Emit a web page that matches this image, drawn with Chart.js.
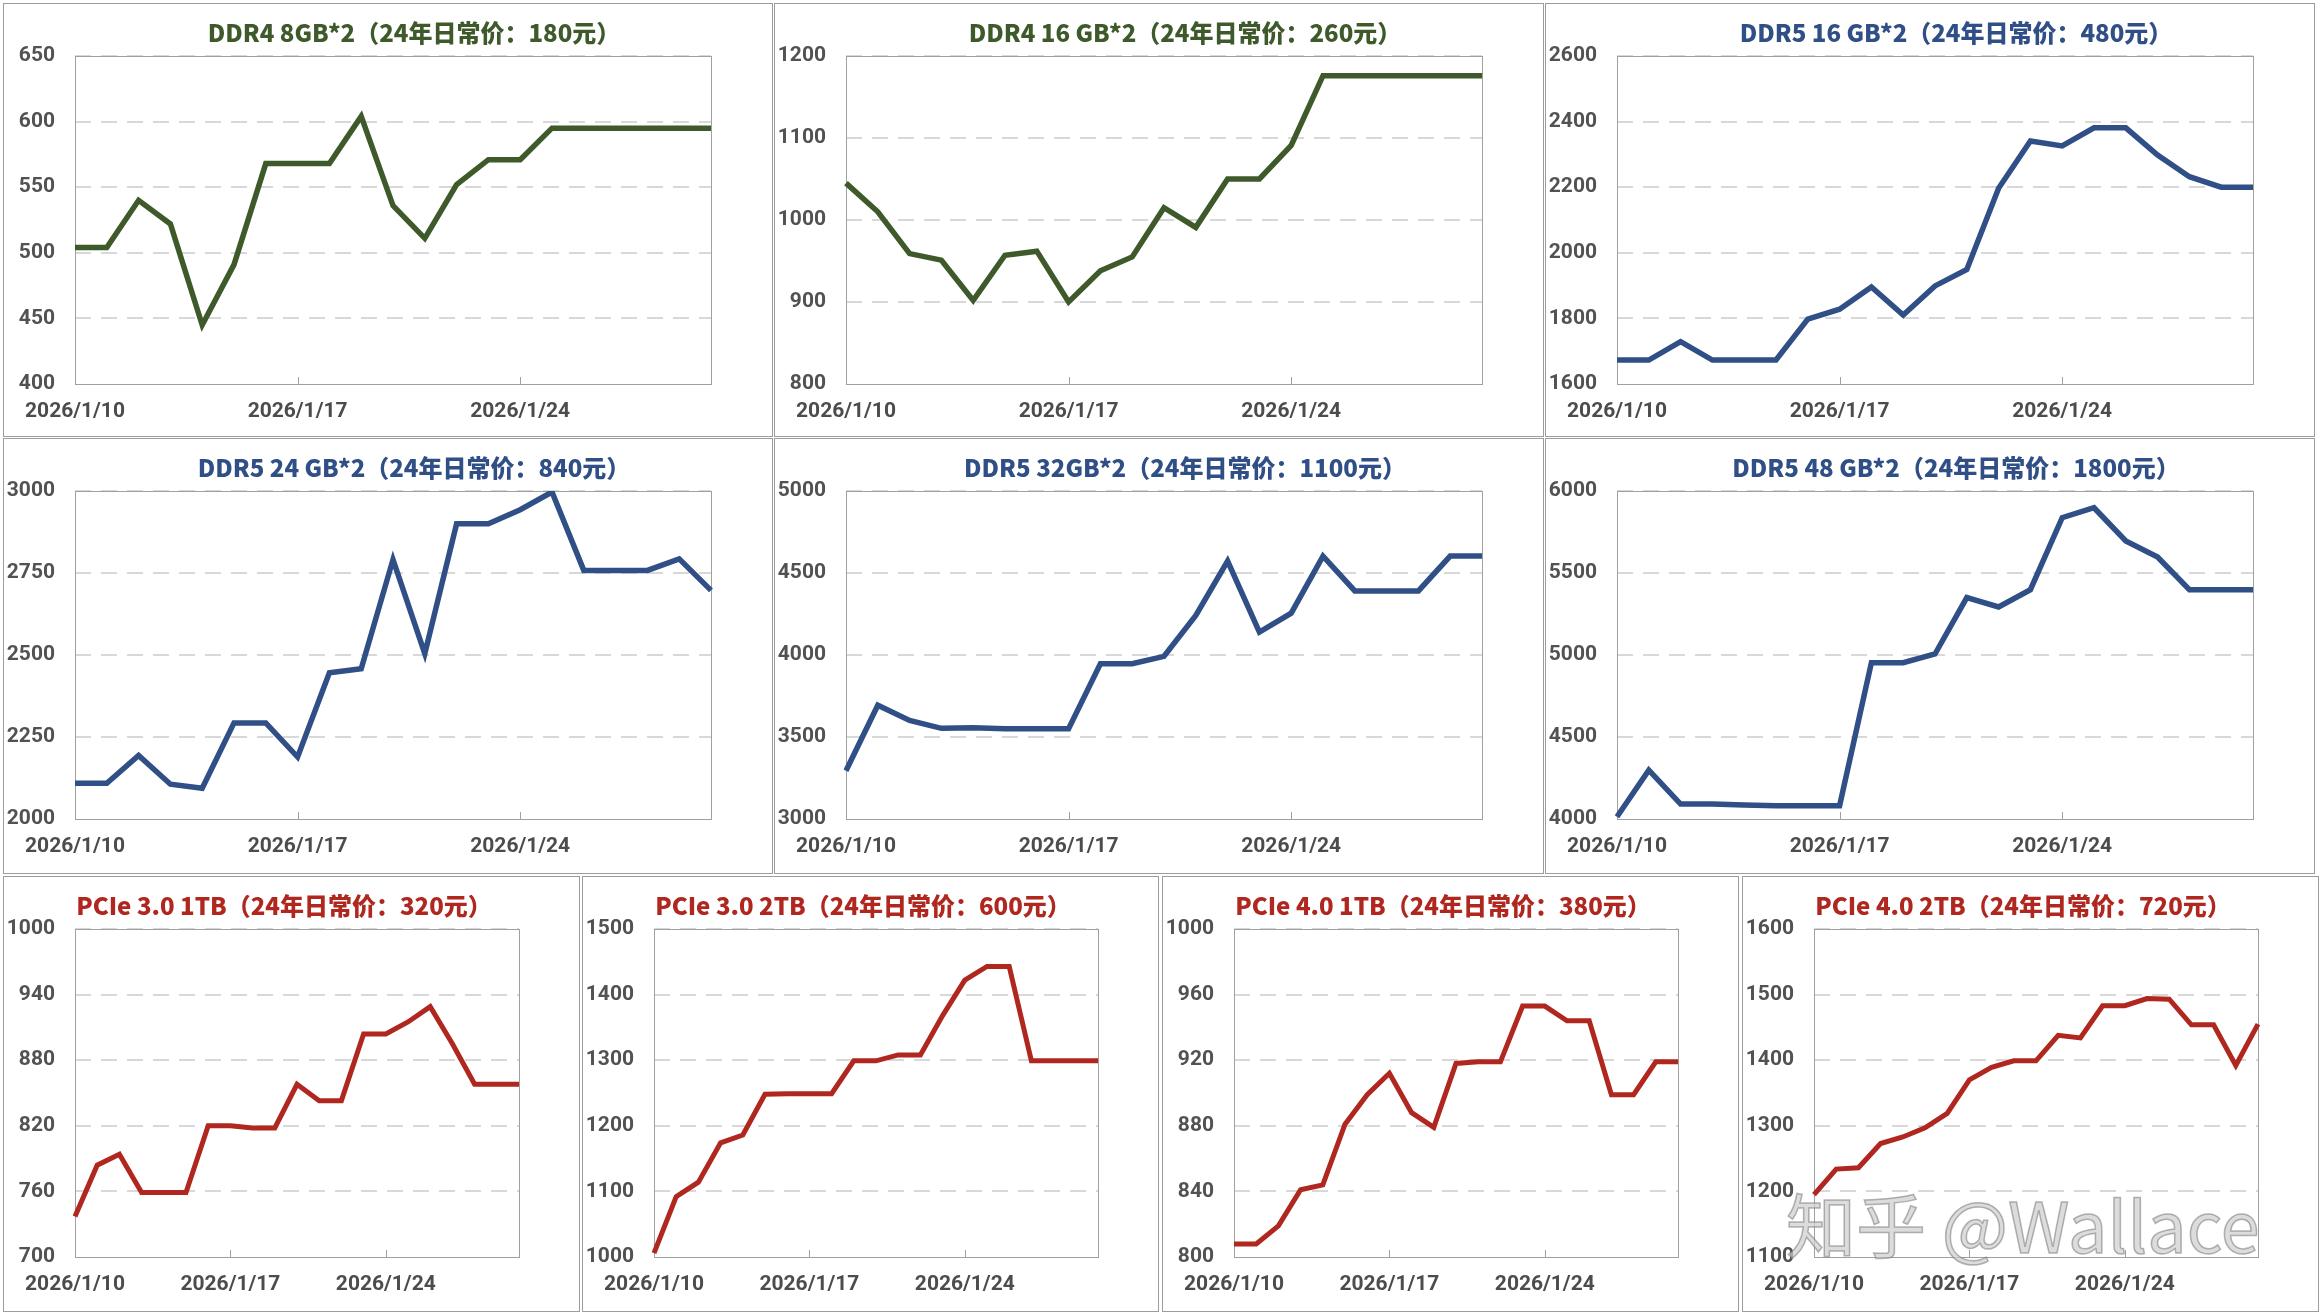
<!DOCTYPE html>
<html>
<head>
<meta charset="utf-8">
<script src="https://cdn.jsdelivr.net/npm/chart.js@4.4.1/dist/chart.umd.min.js"></script>
<style>
  body { margin: 0; background: #fff; width: 2322px; height: 1314px; position: relative; overflow: hidden; }
  .panel { position: absolute; box-sizing: border-box; border: 1px solid #9c9c9c; background: #fff; }
  .panel canvas { display: block; }
  #wm { position: absolute; z-index: 5; left: 1786px; top: 1172px; font: 400 70px "Noto Sans CJK SC", sans-serif;
        color: rgba(205,205,205,0.7); -webkit-text-stroke: 1.5px rgba(110,110,110,0.5); white-space: nowrap; }
</style>
</head>
<body>
<div id="wm">知乎 @Wallace</div>
<script>
// x axis: one point per day
const dates = ['2026/1/10', '2026/1/11', '2026/1/12', '2026/1/13', '2026/1/14', '2026/1/15', '2026/1/16',
  '2026/1/17', '2026/1/18', '2026/1/19', '2026/1/20', '2026/1/21', '2026/1/22', '2026/1/23',
  '2026/1/24', '2026/1/25', '2026/1/26', '2026/1/27', '2026/1/28', '2026/1/29', '2026/1/30'];

const titles = ['DDR4 8GB*2（24年日常价：180元）', 'DDR4 16 GB*2（24年日常价：260元）', 'DDR5 16 GB*2（24年日常价：480元）',
  'DDR5 24 GB*2（24年日常价：840元）', 'DDR5 32GB*2（24年日常价：1100元）', 'DDR5 48 GB*2（24年日常价：1800元）',
  'PCIe 3.0 1TB（24年日常价：320元）', 'PCIe 3.0 2TB（24年日常价：600元）', 'PCIe 4.0 1TB（24年日常价：380元）', 'PCIe 4.0 2TB（24年日常价：720元）'];

const ddr4_8 = [504, 504, 540, 522, 445, 491, 568, 568, 568, 604, 536, 511, 552, 571, 571, 595, 595, 595, 595, 595, 595];
const ddr4_16 = [1045, 1010, 959, 951, 902, 957, 962, 900, 938, 955, 1015, 991, 1050, 1050, 1091, 1176, 1176, 1176, 1176, 1176, 1176];
const ddr5_16 = [1673, 1673, 1729, 1673, 1673, 1673, 1798, 1828, 1896, 1810, 1899, 1949, 2197, 2341, 2326, 2381, 2381, 2298, 2232, 2200, 2200];
const ddr5_24 = [2109, 2109, 2194, 2106, 2094, 2293, 2293, 2189, 2446, 2458, 2791, 2504, 2900, 2900, 2943, 2997, 2758, 2758, 2758, 2793, 2697];
const ddr5_32 = [3294, 3694, 3601, 3553, 3557, 3551, 3551, 3551, 3947, 3947, 3992, 4241, 4573, 4140, 4255, 4603, 4391, 4391, 4391, 4603, 4603];
const ddr5_48 = [4014, 4298, 4091, 4091, 4085, 4081, 4081, 4081, 4953, 4953, 5006, 5350, 5293, 5398, 5837, 5898, 5695, 5597, 5398, 5398, 5398];
const pcie3_1 = [737, 784, 794, 759, 759, 759, 820, 820, 818, 818, 858, 843, 843, 904, 904, 915, 929, 895, 858, 858, 858];
const pcie3_2 = [1006, 1092, 1114, 1174, 1186, 1248, 1249, 1249, 1249, 1299, 1299, 1308, 1308, 1368, 1422, 1443, 1443, 1299, 1299, 1299, 1299];
const pcie4_1 = [808, 808, 819, 841, 844, 881, 899, 912, 888, 879, 918, 919, 919, 953, 953, 944, 944, 899, 899, 919, 919];
const pcie4_2 = [1195, 1234, 1236, 1273, 1283, 1297, 1319, 1370, 1389, 1399, 1399, 1438, 1434, 1483, 1483, 1494, 1493, 1454, 1454, 1392, 1455];

// y axis ranges (min, max, step)
const yMin = [400, 800, 1600, 2000, 3000, 4000, 700, 1000, 800, 1100];
const yMax = [650, 1200, 2600, 3000, 5000, 6000, 1000, 1500, 1000, 1600];
const yStep = [50, 100, 200, 250, 500, 500, 60, 100, 40, 100];

const series = [ddr4_8, ddr4_16, ddr5_16, ddr5_24, ddr5_32, ddr5_48, pcie3_1, pcie3_2, pcie4_1, pcie4_2];

const GREEN = '#3e5a2b', BLUE = '#2f4f86', RED = '#b0271f';
const colors = [GREEN, GREEN, BLUE, BLUE, BLUE, BLUE, RED, RED, RED, RED];

// panel boxes [left, top, width, height]
const boxes = [
  [3, 3, 770, 434], [774, 3, 770, 434], [1545, 3, 770, 434],
  [3, 438, 770, 436], [774, 438, 770, 436], [1545, 438, 770, 436],
  [3, 876, 577, 436], [582, 876, 577, 436], [1162, 876, 577, 436], [1742, 876, 577, 436]
];

Chart.defaults.font.family = 'Roboto, "Noto Sans CJK SC", sans-serif';

const framePlugin = {
  id: 'frame',
  beforeDatasetsDraw(chart) {
    const a = chart.chartArea, c = chart.ctx;
    c.save();
    c.strokeStyle = '#a0a0a0';
    c.lineWidth = 1;
    c.strokeRect(Math.round(a.left) + 0.5, Math.round(a.top) + 0.5, Math.round(a.right - a.left), Math.round(a.bottom - a.top));
    const xs = chart.scales.x;
    dates.forEach((d, i) => {
      if (i > 0 && i % 7 === 0) {
        const x = Math.round(xs.getPixelForValue(i)) + 0.5;
        c.beginPath();
        c.moveTo(x, a.bottom);
        c.lineTo(x, a.bottom - 7);
        c.stroke();
      }
    });
    c.restore();
  },
  afterDraw(chart, args, opts) {
    const c = chart.ctx;
    c.save();
    c.font = '900 24px "Noto Sans CJK SC", sans-serif';
    c.fillStyle = opts.color;
    c.textAlign = 'center';
    c.textBaseline = 'middle';
    c.fillText(opts.text, opts.cx, 29);
    c.restore();
  }
};

series.forEach((vals, k) => {
  const [left, top, w, h] = boxes[k];
  const div = document.createElement('div');
  div.className = 'panel';
  div.style.left = left + 'px';
  div.style.top = top + 'px';
  div.style.width = w + 'px';
  div.style.height = h + 'px';
  const cw = w - 2, ch = h - 2;
  const cv = document.createElement('canvas');
  cv.width = cw;
  cv.height = ch;
  div.appendChild(cv);
  document.body.appendChild(div);

  const wide = k < 6;
  new Chart(cv.getContext('2d'), {
    type: 'line',
    data: {
      labels: dates,
      datasets: [{
        data: vals,
        borderColor: colors[k],
        borderWidth: wide ? 5.5 : 5,
        pointRadius: 0,
        tension: 0,
        fill: false
      }]
    },
    options: {
      responsive: false,
      animation: false,
      devicePixelRatio: 1,
      layout: { padding: { top: 52, right: wide ? 61 : 60, bottom: 0, left: 0 } },
      plugins: {
        legend: { display: false },
        tooltip: { enabled: false },
        title: { display: false },
        frame: { text: titles[k], color: colors[k], cx: wide ? 410 : 280 }
      },
      scales: {
        x: {
          offset: false,
          grid: { display: false, drawTicks: false },
          border: { display: false },
          afterFit(s) { s.height = ch - 380; },
          ticks: {
            autoSkip: false,
            maxRotation: 0,
            minRotation: 0,
            padding: 15,
            color: '#4c4c4c',
            font: { size: 21, weight: '700' },
            callback: (v, i) => (i % 7 === 0 ? dates[i] : '')
          }
        },
        y: {
          min: yMin[k],
          max: yMax[k],
          afterFit(s) { s.width = 71; },
          grid: {
            drawTicks: false,
            lineWidth: 2,
            color: (ctx) => (ctx.tick && ctx.tick.value === yMin[k] ? 'rgba(0,0,0,0)' : '#d8d8d8')
          },
          border: { display: false, dash: [16, 10] },
          ticks: {
            stepSize: yStep[k],
            padding: 20,
            color: '#525252',
            font: { size: 21, weight: '700' },
            callback: (v) => String(v)
          }
        }
      }
    },
    plugins: [framePlugin]
  });
});
</script>
</body>
</html>
